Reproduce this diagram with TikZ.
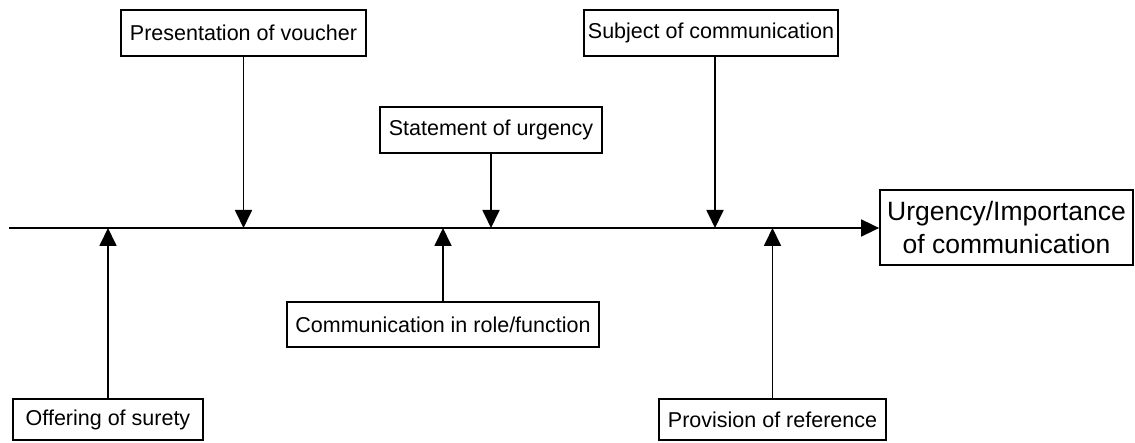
\documentclass[tikz,border=0pt]{standalone}
\usepackage{fontspec}
\setmainfont{Liberation Sans}
\usetikzlibrary{arrows.meta}
\begin{document}
\begin{tikzpicture}[x=1pt,y=-1pt,
  box/.style={draw=black,line width=1.8pt,fill=white,inner sep=0pt,align=center,
    font=\fontsize{21.5}{25}\selectfont},
  arr/.style={line width=1.8pt,-{Triangle[width=17pt,length=18pt]}}]
\useasboundingbox (0,0) rectangle (1135,443);
\node[box,minimum width=245,minimum height=46] (pres) at (243.5,33) {Presentation of voucher};
\node[box,minimum width=254,minimum height=46] (subj) at (711,33) {Subject of communication};
\node[box,minimum width=222,minimum height=46] (stat) at (491,130) {Statement of urgency};
\node[box,minimum width=312,minimum height=45] (comm) at (443,324.5) {Communication in role/function};
\node[box,minimum width=190,minimum height=41] (offr) at (108,419.5) {Offering of surety};
\node[box,minimum width=227,minimum height=41] (prov) at (772.5,419.5) {Provision of reference};
\node[box,minimum width=253,minimum height=75,font=\fontsize{26.5}{33}\selectfont] (urg) at (1006.5,227.5) {Urgency/Importance\\of communication};
\coordinate (start) at (9,228);
\draw[arr] (start) -- (start -| urg.west);
\draw[arr] (pres.south) -- (pres.south |- start);
\draw[arr] ([xshift=4pt]subj.south) -- ([xshift=4pt]subj.south |- start);
\draw[arr] (stat.south) -- (stat.south |- start);
\draw[arr] (offr.north) -- (offr.north |- start);
\draw[arr] (comm.north) -- (comm.north |- start);
\draw[arr] (prov.north) -- (prov.north |- start);
\end{tikzpicture}
\end{document}
